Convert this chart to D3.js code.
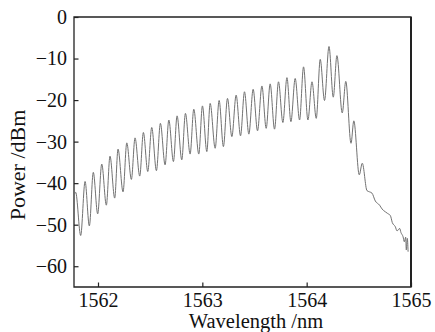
<!DOCTYPE html>
<html>
<head>
<meta charset="utf-8">
<script src="https://cdn.jsdelivr.net/npm/d3@7"></script>
<style>
  body { margin: 0; background: #fff; }
</style>
</head>
<body>
<div id="chart"></div>
<script>
// spectrum: peaks and notches of the fringes, then the tail
var wavelength = [
  1561.770, 1561.786, 1561.834, 1561.876, 1561.917, 1561.955, 1561.997, 1562.036,
  1562.080, 1562.115, 1562.160, 1562.192, 1562.240, 1562.276, 1562.320, 1562.355,
  1562.400, 1562.435, 1562.477, 1562.515, 1562.560, 1562.598, 1562.643, 1562.679,
  1562.723, 1562.758, 1562.803, 1562.838, 1562.883, 1562.918, 1562.966, 1563.001,
  1563.043, 1563.075, 1563.123, 1563.161, 1563.202, 1563.241, 1563.283, 1563.324,
  1563.366, 1563.404, 1563.446, 1563.487, 1563.529, 1563.571, 1563.612, 1563.650,
  1563.692, 1563.730, 1563.772, 1563.811, 1563.849, 1563.890, 1563.932, 1563.970,
  1564.012, 1564.051, 1564.092, 1564.130, 1564.171, 1564.214, 1564.255, 1564.290,
  1564.341, 1564.375, 1564.425, 1564.452, 1564.504, 1564.533, 1564.578, 1564.603,
  1564.626, 1564.658, 1564.699, 1564.722, 1564.754, 1564.776, 1564.802, 1564.821,
  1564.850, 1564.866, 1564.891, 1564.904, 1564.924, 1564.936, 1564.949, 1564.955,
  1564.965, 1564.972
];
var power = [
  -43.1, -42.2, -52.6, -39.6, -50.3, -37.4, -47.4, -35.4,
  -45.3, -33.5, -43.6, -31.8, -42.1, -30.3, -39.1, -29.1,
  -38.3, -27.8, -37.2, -26.6, -37.0, -25.6, -35.6, -24.8,
  -34.8, -23.8, -34.4, -23.2, -33.0, -22.2, -33.0, -21.4,
  -32.4, -20.8, -31.6, -20.1, -31.2, -19.6, -28.8, -18.8,
  -28.6, -18.0, -28.2, -17.4, -27.4, -16.6, -26.8, -16.1,
  -27.0, -15.6, -25.4, -14.6, -25.2, -14.8, -24.8, -12.0,
  -24.8, -15.6, -24.4, -10.2, -20.1, -7.1, -19.3, -9.3,
  -23.1, -15.5, -30.4, -25.0, -38.0, -35.2, -41.8, -42.1,
  -42.4, -44.3, -45.3, -46.2, -46.9, -47.3, -47.8, -49.5,
  -50.5, -51.5, -50.9, -51.9, -52.9, -54.1, -53.0, -56.1,
  -53.3, -56.5
];
var xTicks = [1562, 1563, 1564, 1565];
var yTicks = [-60, -50, -40, -30, -20, -10, 0];

var serif = "'Liberation Serif', 'DejaVu Serif', serif";

var data = wavelength.map(function (w, i) { return { w: w, p: power[i] }; });

var margin = { top: 17, right: 24, bottom: 45, left: 74 },
    width = 435 - margin.left - margin.right,
    height = 332 - margin.top - margin.bottom;

var svg = d3.select("#chart")
    .append("svg")
    .attr("width", 435)
    .attr("height", 332)
    .append("g")
    .attr("transform", "translate(" + margin.left + "," + margin.top + ")");

var x = d3.scaleLinear()
    .domain([1561.77, 1565])
    .range([0, width]);

var y = d3.scaleLinear()
    .domain([-65, 0])
    .range([height, 0]);

// X axis, ticks pointing inward
var xAxis = svg.append("g")
    .attr("transform", "translate(0," + height + ")")
    .call(d3.axisBottom(x).tickValues(xTicks).tickFormat(d3.format("d"))
        .tickSizeInner(-4.5).tickSizeOuter(0).tickPadding(5.5));
xAxis.attr("font-family", null).attr("font-size", null);
xAxis.selectAll("text")
    .style("font-family", serif)
    .style("font-size", "20px")
    .attr("fill", "#111");

// Y axis
var yAxis = svg.append("g")
    .call(d3.axisLeft(y).tickValues(yTicks)
        .tickSizeInner(-4.5).tickSizeOuter(0).tickPadding(7));
yAxis.attr("font-family", null).attr("font-size", null);
yAxis.selectAll("text")
    .style("font-family", serif)
    .style("font-size", "20px")
    .attr("fill", "#111");

svg.selectAll(".domain").remove();
svg.selectAll(".tick line").attr("stroke", "#222").attr("stroke-width", 1.2);

// frame
svg.append("path")
    .attr("d", "M0,0H" + width + "V" + height + "H0Z")
    .attr("fill", "none")
    .attr("stroke", "#222")
    .attr("stroke-width", 1.3);
svg.append("line")
    .attr("x1", width).attr("x2", width)
    .attr("y1", 0).attr("y2", height)
    .attr("stroke", "#222")
    .attr("stroke-width", 2);

// spectrum
var line = d3.line()
    .x(function (d) { return x(d.w); })
    .y(function (d) { return y(d.p); })
    .curve(d3.curveMonotoneX);

svg.append("path")
    .datum(data)
    .attr("fill", "none")
    .attr("stroke", "#727272")
    .attr("stroke-width", 1)
    .attr("d", line);

// axis labels
svg.append("text")
    .attr("text-anchor", "middle")
    .attr("x", 256 - margin.left)
    .attr("y", 327.5 - margin.top)
    .style("font-family", serif)
    .style("font-size", "20.5px")
    .attr("fill", "#111")
    .text("Wavelength /nm");

svg.append("text")
    .attr("text-anchor", "middle")
    .attr("transform", "rotate(-90)")
    .attr("x", -(165 - margin.top))
    .attr("y", 25 - margin.left)
    .style("font-family", serif)
    .style("font-size", "22px")
    .attr("fill", "#111")
    .text("Power /dBm");
</script>
</body>
</html>
